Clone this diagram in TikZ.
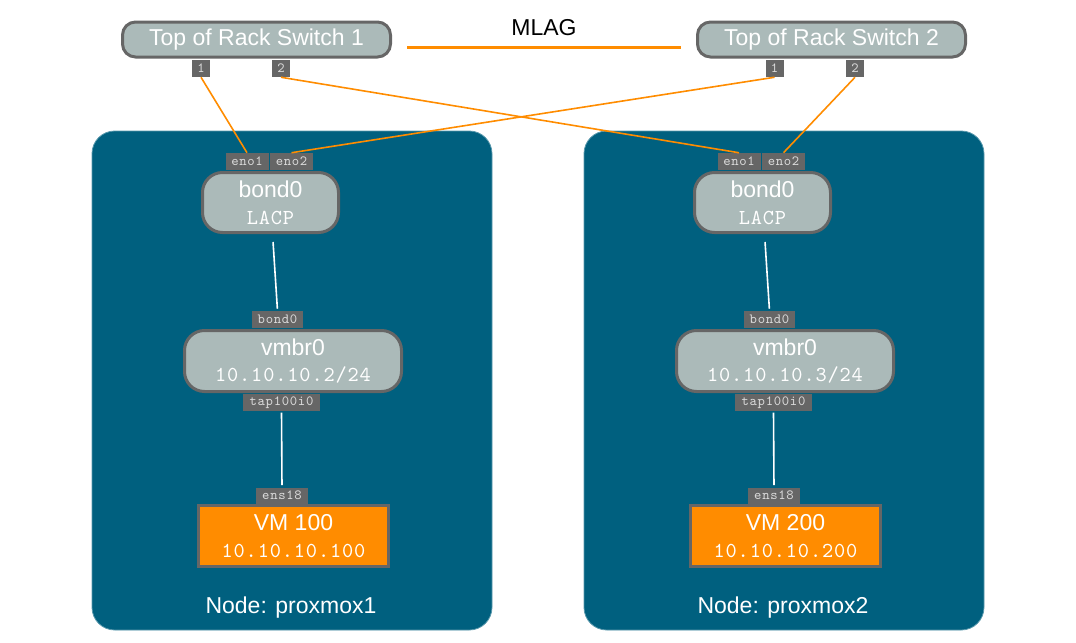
\documentclass[tikz,border=0pt]{standalone}
\usepackage{fontspec}
\setmainfont{Liberation Sans}
\newfontfamily\ipmono{lmmono10-regular}[Extension=.otf, LetterSpace=4]
\newfontfamily\portmono{lmmono10-regular}[Extension=.otf, LetterSpace=5]
\usepackage{tikz}
\usetikzlibrary{calc}

\definecolor{hostblue}{RGB}{0,96,127}
\definecolor{boxgray}{RGB}{171,186,185}
\definecolor{edgegray}{RGB}{102,102,102}
\definecolor{portgray}{RGB}{102,102,102}
\definecolor{porttext}{RGB}{220,220,220}
\definecolor{linkorange}{RGB}{255,140,0}

\newcommand{\ipfont}{\ipmono\fontsize{16}{20}\selectfont}
\newcommand{\portfont}{\portmono\fontsize{10.5}{10}\selectfont}

\begin{document}
\begin{tikzpicture}[x=0.75pt, y=-0.75pt,
    hostbox/.style={fill=hostblue, draw=hostblue!65!white, line width=0.6pt, rounded corners=17pt,
        minimum width=300pt, minimum height=374.25pt, inner sep=0pt},
    switchbox/.style={fill=boxgray, draw=edgegray, line width=2.25pt, rounded corners=9.75pt,
        minimum width=201pt, minimum height=26.25pt, inner sep=0pt, text=white,
        font=\fontsize{17.25}{20}\selectfont},
    ifbox/.style={fill=boxgray, draw=edgegray, line width=2.25pt, rounded corners=15pt,
        inner sep=0pt, text=white, align=center, font=\fontsize{17.25}{20}\selectfont},
    vmbox/.style={fill=linkorange, draw=edgegray, line width=2.25pt, minimum width=142.5pt,
        minimum height=45.75pt, inner sep=0pt, text=white, align=center,
        font=\fontsize{17.25}{20}\selectfont},
    port/.style={fill=portgray, inner sep=0pt, minimum height=12.75pt, text=porttext,
        font=\portfont},
    link/.style={linkorange, line width=1.2pt},
    wire/.style={white, line width=1.2pt}
]
    \useasboundingbox (0,0) rectangle (1076,643);

    \coordinate (SwOne)  at (256.5,39.5);
    \coordinate (SwTwo)  at (831.5,39.5);
    \coordinate (MlagL)  at (407,47);
    \coordinate (MlagR)  at (681,47);

    % Switches and their ports
    \node [switchbox] (sw1) at (SwOne) {Top of Rack Switch 1};
    \node [switchbox] (sw2) at (SwTwo) {Top of Rack Switch 2};
    \node [port, minimum width=13.5pt] (sw1p1) at (201,68.5) {1};
    \node [port, minimum width=13.5pt] (sw1p2) at (281,68.5) {2};
    \node [port, minimum width=13.5pt] (sw2p1) at (774.5,68.5) {1};
    \node [port, minimum width=13.5pt] (sw2p2) at (855,68.5) {2};

    \draw [linkorange, line width=2.25pt] (MlagL) -- (MlagR);% MLAG peer link
    \node [font=\fontsize{17.25}{20}\selectfont] (mlag) at (544,28) {MLAG};

    % Proxmox hosts
    \foreach \h/\dx/\vm/\ip in {1/0/100/2, 2/492/200/3} {
        \begin{scope}[shift={(\dx,0)}]
            \node [hostbox] (host\h) at (292,380.5) {};
            \node [text=white, font=\fontsize{17.25}{20}\selectfont] (hostname\h) at (291,607.5) {Node: proxmox\h};

            \node [port, minimum width=32.25pt] (enoA\h) at (247,161.5) {eno1};
            \node [port, minimum width=32.25pt] (enoB\h) at (291.5,161.5) {eno2};
            \node [ifbox, minimum width=102pt, minimum height=45pt] (bond\h) at (270.5,202.5)
                {bond0\\{\ipfont LACP}};

            \node [port, minimum width=38.25pt] (bondport\h) at (277.5,319.5) {bond0};
            \node [ifbox, minimum width=162.75pt, minimum height=45.75pt] (vmbr\h) at (293,361)
                {vmbr0\\{\ipfont 10.10.10.\ip/24}};
            \node [port, minimum width=57.75pt] (tap\h) at (281.5,402.5) {tap100i0};

            \node [port, minimum width=39pt, minimum height=12pt] (ens\h) at (282,495.5) {ens18};
            \node [vmbox] (vm\h) at (293.5,536) {VM \vm\\{\ipfont 10.10.10.\vm}};

            \draw [wire, shorten <=6pt, shorten >=1.5pt] (bond\h) -- (bondport\h.north);
            \draw [wire, shorten <=1pt, shorten >=1.5pt] (tap\h.south) -- (ens\h.north);
        \end{scope}
    }

    % Uplinks, crossed between the switches
    \draw [link] (sw1p1.south) -- (enoA1.north);
    \draw [link] (sw1p2.south) -- (enoA2.north);
    \draw [link] (sw2p1.south) -- (enoB1.north);
    \draw [link] (sw2p2.south) -- (enoB2.north);
\end{tikzpicture}
\end{document}
